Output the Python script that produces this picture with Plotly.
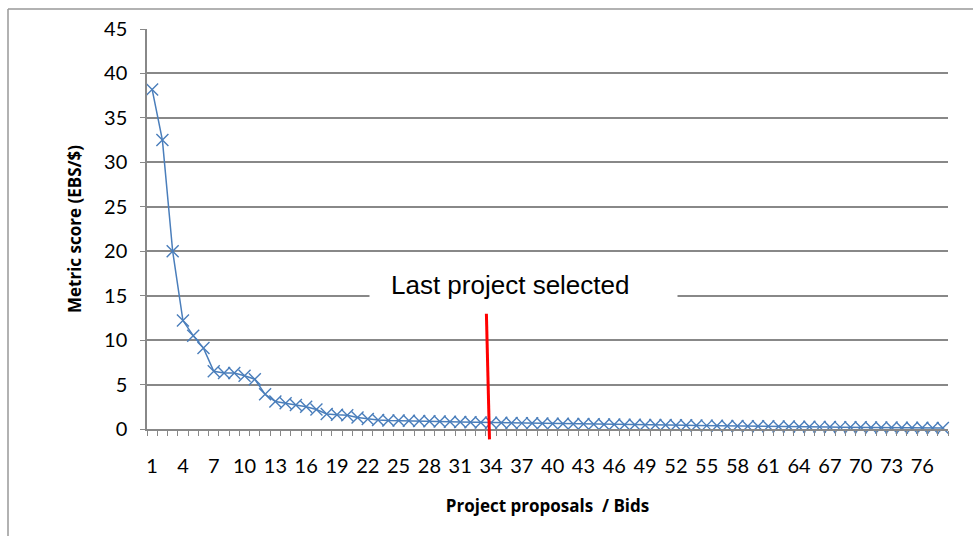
import plotly.graph_objects as go

# Bids ranked by metric score (EBS per dollar)
bids = list(range(1, 79))
scores = [
    38.2, 32.5, 20.0, 12.2, 10.5, 9.1, 6.5, 6.3, 6.3, 6.0,
    5.6, 3.9, 3.1, 2.9, 2.7, 2.5, 2.2, 1.7, 1.6, 1.55,
    1.3, 1.12, 1.02, 0.96, 0.95, 0.93, 0.9, 0.87, 0.84, 0.82,
    0.79, 0.77, 0.74, 0.71, 0.7, 0.68, 0.66, 0.64, 0.62, 0.6,
    0.58, 0.57, 0.55, 0.53, 0.51, 0.5, 0.48, 0.47, 0.46, 0.45,
    0.44, 0.43, 0.41, 0.4, 0.38, 0.37, 0.35, 0.34, 0.32, 0.31,
    0.3, 0.29, 0.27, 0.26, 0.25, 0.24, 0.22, 0.21, 0.2, 0.19,
    0.18, 0.17, 0.16, 0.15, 0.14, 0.13, 0.12, 0.11,
]
x_tick_vals = list(range(1, 79, 3))
x_tick_text = [str(v) for v in x_tick_vals]
y_tick_vals = list(range(0, 50, 5))

cutoff_bid = 33.5
cutoff_label = "Last project selected"

BLUE = "#4a7ebb"
GRID = "#888888"
FRAME = "#999999"
TICK_FONT = dict(family="Lato, sans-serif", size=20, color="#000000")
TITLE_FONT = dict(family="Open Sans, sans-serif", size=17, color="#000000")

fig = go.Figure()
fig.add_trace(go.Scatter(
    x=bids, y=scores, mode="lines+markers",
    line=dict(color=BLUE, width=1.5),
    marker=dict(symbol="x-thin", size=12, line=dict(color=BLUE, width=1.4)),
    cliponaxis=False,
    showlegend=False,
))

# cutoff marker
fig.add_shape(type="line", xref="x", yref="paper",
              x0=cutoff_bid + 0.05, x1=cutoff_bid + 0.35, y0=0.288, y1=-0.026,
              line=dict(color="#ff0000", width=3), layer="above")

# white label panel breaking the gridline, then the label itself
fig.add_annotation(
    text=" ", xref="paper", yref="paper", x=0.470, y=0.361,
    showarrow=False, bgcolor="#ffffff", width=307, height=30, borderpad=0,
)
fig.add_annotation(
    text=cutoff_label, xref="paper", yref="paper", x=0.453, y=0.361,
    showarrow=False,
    font=dict(family="Liberation Sans, Arial, sans-serif", size=26, color="#000000"),
)

# outer chart frame: left and top edges, in pixels from the plot's top-left corner
fig.add_shape(type="line", xref="paper", yref="paper",
              xsizemode="pixel", ysizemode="pixel", xanchor=0, yanchor=1,
              x0=-139, x1=-139, y0=20, y1=-520,
              line=dict(color=FRAME, width=1.5), layer="above")
fig.add_shape(type="line", xref="paper", yref="paper",
              xsizemode="pixel", ysizemode="pixel", xanchor=0, yanchor=1,
              x0=-139, x1=840, y0=20, y1=20,
              line=dict(color=FRAME, width=1.5), layer="above")

fig.update_layout(
    width=973, height=536,
    margin=dict(l=147, r=25, t=29, b=106.5),
    paper_bgcolor="#ffffff", plot_bgcolor="#ffffff",
    xaxis=dict(
        range=[0.5, 78.5], tickmode="array", tickvals=x_tick_vals, ticktext=x_tick_text,
        ticks="", showgrid=False, zeroline=False,
        showline=True, linecolor=GRID, linewidth=1.5,
        minor=dict(ticks="outside", tick0=0.5, dtick=1, ticklen=5, tickcolor=GRID,
                   tickwidth=1, showgrid=False),
        tickfont=TICK_FONT, ticklabelstandoff=18,
        title=dict(text="<b>Project proposals  / Bids</b>", font=TITLE_FONT, standoff=24),
    ),
    yaxis=dict(
        range=[0, 45], tickmode="array", tickvals=y_tick_vals,
        ticks="outside", ticklen=5, tickcolor=GRID, tickwidth=1,
        showgrid=True, gridcolor=GRID, gridwidth=1.5, zeroline=False,
        showline=True, linecolor=GRID, linewidth=1.5,
        tickfont=TICK_FONT, ticklabelstandoff=9,
        title=dict(text="<b>Metric score (EBS/$)</b>", font=TITLE_FONT, standoff=18),
    ),
)

fig.write_html("out.html", config={"displayModeBar": False})
